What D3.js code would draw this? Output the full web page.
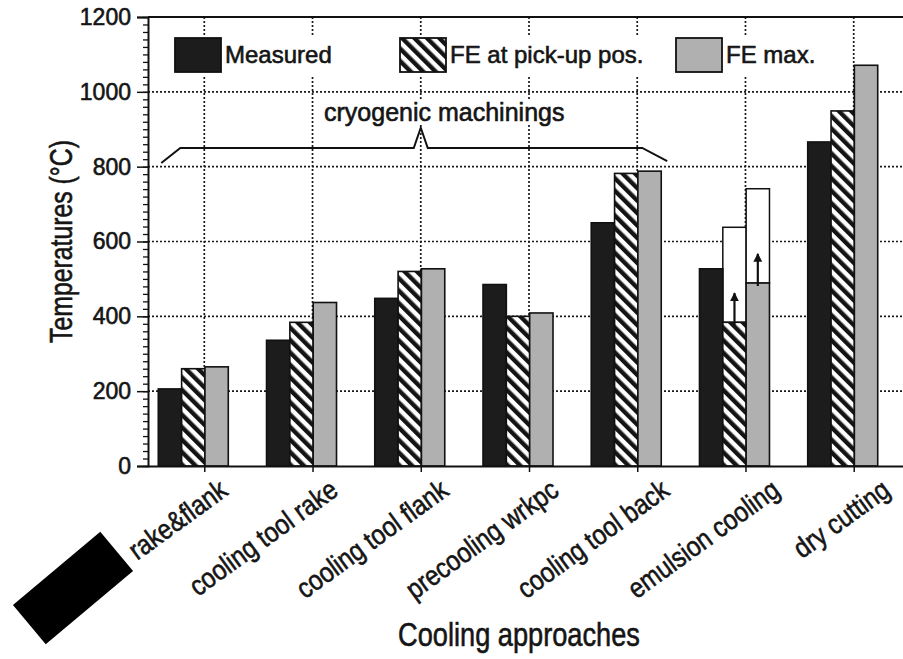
<!DOCTYPE html>
<html lang="en">
<head>
<meta charset="utf-8">
<title>Temperatures by cooling approach</title>
<script src="https://d3js.org/d3.v7.min.js"></script>
<style>
  body { margin: 0; background: #fff; }
  #chart text { font-family: "Liberation Sans", Arial, sans-serif; fill: #151515; stroke: #151515; stroke-width: 0.6; }
  .grid line { stroke: #1a1a1a; stroke-width: 1.7; stroke-dasharray: 2,2; }
  .axis path, .axis line { stroke: #111; }
</style>
</head>
<body>
<div id="chart"></div>
<script>
"use strict"
// categories on x
const categories = ["rake&flank", "cooling tool rake", "cooling tool flank", "precooling wrkpc",
                    "cooling tool back", "emulsion cooling", "dry cutting"];
const seriesNames = ["Measured", "FE at pick-up pos.", "FE max."];
// temperatures in °C
const measured  = [206, 336, 448, 485, 650, 527, 866];
const fePickup  = [260, 384, 520, 400, 782, 384, 949];
const feMax     = [265, 437, 527, 409, 788, 489, 1071];
// upper end of the FE range (only emulsion cooling has one)
const fePickupUpper = [null, null, null, null, null, 638, null];
const feMaxUpper    = [null, null, null, null, null, 741, null];
const yTicks = [0, 200, 400, 600, 800, 1000, 1200];
const groupLabel = "cryogenic machinings";
const groupRange = [0, 4];   // first and last cryogenic category

const W = 903, H = 659;
const margin = {top: 17, left: 148, bottom: 193, right: -7};
const plotW = W - margin.left - margin.right, plotH = H - margin.top - margin.bottom;

const svg = d3.select("#chart").append("svg").attr("width", W).attr("height", H);

const defs = svg.append("defs");
const hatch = defs.append("pattern").attr("id", "hatch")
  .attr("patternUnits", "userSpaceOnUse").attr("width", 8.8).attr("height", 8.8)
  .attr("patternTransform", "rotate(-45)");
hatch.append("rect").attr("width", 8.8).attr("height", 8.8).attr("fill", "#fff");
hatch.append("rect").attr("width", 4.4).attr("height", 8.8).attr("fill", "#141414");
defs.append("marker").attr("id", "arrow").attr("viewBox", "0 0 10 10")
  .attr("refX", 9).attr("refY", 5).attr("markerWidth", 4).attr("markerHeight", 5)
  .attr("orient", "auto").attr("markerUnits", "strokeWidth")
  .append("path").attr("d", "M0,0 L10,5 L0,10 z").attr("fill", "#111");

const fills = {"Measured": "#1c1c1c", "FE at pick-up pos.": "url(#hatch)", "FE max.": "#b0b0b0"};

const g = svg.append("g").attr("transform", `translate(${margin.left},${margin.top})`);

const x = d3.scalePoint().domain(categories).range([0, plotW]).padding(0.52);
const xs = d3.scaleBand().domain(seriesNames).range([-46, 24]);
const y = d3.scaleLinear().domain([0, 1200]).range([plotH, 0]);

// gridlines
g.append("g").attr("class", "grid").selectAll("line")
  .data(yTicks.filter(v => v > 0 && v < 1200)).join("line")
  .attr("x1", 0).attr("x2", plotW).attr("y1", d => y(d)).attr("y2", d => y(d));
g.append("g").attr("class", "grid").selectAll("line")
  .data(categories).join("line")
  .attr("x1", d => x(d)).attr("x2", d => x(d)).attr("y1", 0).attr("y2", plotH);

// bars
const rows = categories.map((c, i) => ({
  cat: c,
  vals: [
    {s: seriesNames[0], v: measured[i], up: null},
    {s: seriesNames[1], v: fePickup[i], up: fePickupUpper[i]},
    {s: seriesNames[2], v: feMax[i], up: feMaxUpper[i]}
  ]
}));
const grp = g.selectAll(".grp").data(rows).join("g")
  .attr("class", "grp").attr("transform", d => `translate(${x(d.cat)},0)`);
// range boxes (white) behind bars
grp.selectAll(".up").data(d => d.vals.filter(v => v.up != null)).join("rect")
  .attr("class", "up")
  .attr("x", d => xs(d.s)).attr("width", xs.bandwidth())
  .attr("y", d => y(d.up)).attr("height", d => y(d.v) - y(d.up))
  .attr("fill", "#fff").attr("stroke", "#111").attr("stroke-width", 1.5);
grp.selectAll(".bar").data(d => d.vals).join("rect")
  .attr("class", "bar")
  .attr("x", d => xs(d.s)).attr("width", xs.bandwidth())
  .attr("y", d => y(d.v)).attr("height", d => plotH - y(d.v))
  .attr("fill", d => fills[d.s]).attr("stroke", "#111").attr("stroke-width", 1.6);
// arrows pointing to the upper end
grp.selectAll(".arr").data(d => d.vals.filter(v => v.up != null)).join("line")
  .attr("class", "arr")
  .attr("x1", d => xs(d.s) + xs.bandwidth() / 2).attr("x2", d => xs(d.s) + xs.bandwidth() / 2)
  .attr("y1", d => y(d.v - 8)).attr("y2", d => y(d.v + 78))
  .attr("stroke", "#111").attr("stroke-width", 2.2).attr("marker-end", "url(#arrow)");

// top frame line
g.append("line").attr("x1", 0).attr("x2", plotW).attr("y1", 0).attr("y2", 0)
  .attr("stroke", "#111").attr("stroke-width", 2);

// y axis: minor then major
g.append("g").attr("class", "axis")
  .call(d3.axisLeft(y).tickValues(d3.range(0, 1201, 20)).tickSize(5).tickFormat(""))
  .call(a => a.select(".domain").remove())
  .selectAll("line").attr("stroke-width", 1.3);
const ya = g.append("g").attr("class", "axis")
  .call(d3.axisLeft(y).tickValues(yTicks).tickSize(11).tickPadding(6).tickFormat(d3.format("d")));
ya.select(".domain").attr("stroke-width", 2);
ya.selectAll("line").attr("stroke-width", 1.5);
ya.selectAll("text").style("font-size", "23px");

// x axis
const xa = g.append("g").attr("class", "axis").attr("transform", `translate(0,${plotH})`)
  .call(d3.axisBottom(x).tickSize(6).tickSizeOuter(0).tickFormat(""));
xa.select(".domain").attr("stroke-width", 2);
xa.selectAll("line").attr("stroke-width", 1.5);
g.append("g").selectAll("text").data(categories).join("text")
  .attr("transform", (d, i) => `translate(${x(d) + 25 + 2.2 * i},${plotH + 28}) rotate(-36) scale(0.86,1)`)
  .attr("text-anchor", "end").style("font-size", "28px")
  .text(d => d);

// axis titles
svg.append("text")
  .attr("transform", `translate(72,${margin.top + plotH / 2}) rotate(-90) scale(0.8,1)`)
  .attr("text-anchor", "middle").style("font-size", "31px")
  .text("Temperatures (°C)");
svg.append("text")
  .attr("transform", `translate(519,646) scale(0.8,1)`)
  .attr("text-anchor", "middle").style("font-size", "34px")
  .text("Cooling approaches");

// brace over the cryogenic group
const bx0 = x(categories[groupRange[0]]) + xs(seriesNames[0]) + 3;
const bx1 = x(categories[groupRange[1]]) + xs(seriesNames[2]) + xs.bandwidth() + 6;
const bMid = x(categories[2]);
const by = y(850);
g.append("path")
  .attr("d", `M${bx0},${y(810)} L${bx0 + 19},${by} L${bMid - 7},${by} L${bMid},${y(904)} L${bMid + 7},${by} L${bx1 - 25},${by} L${bx1},${y(815)}`)
  .attr("fill", "none").attr("stroke", "#111").attr("stroke-width", 2);
const gl = g.append("text").attr("x", (bx0 + bx1) / 2 + 30).attr("y", y(923))
  .attr("text-anchor", "middle").style("font-size", "25px").text(groupLabel);
const gb = gl.node().getBBox();
g.insert("rect", () => gl.node()).attr("x", gb.x).attr("y", gb.y + 3).attr("width", gb.width).attr("height", gb.height - 4)
  .attr("fill", "#fff");

// legend
const legendX = [175, 400, 676];
const lg = svg.append("g");
lg.append("rect").attr("x", 165).attr("y", 36).attr("width", 665).attr("height", 39).attr("fill", "#fff");
seriesNames.forEach((s, i) => {
  lg.append("rect").attr("x", legendX[i]).attr("y", 38).attr("width", 46).attr("height", 34)
    .attr("fill", fills[s]).attr("stroke", "#111").attr("stroke-width", 1.8);
  lg.append("text").attr("x", legendX[i] + 50).attr("y", 63).style("font-size", "24px").text(s);
});

// redaction box over the start of the first label
svg.append("rect").attr("x", -57).attr("y", -25.5).attr("width", 114).attr("height", 51)
  .attr("transform", "translate(73,588) rotate(-40)").attr("fill", "#000");
</script>
</body>
</html>
